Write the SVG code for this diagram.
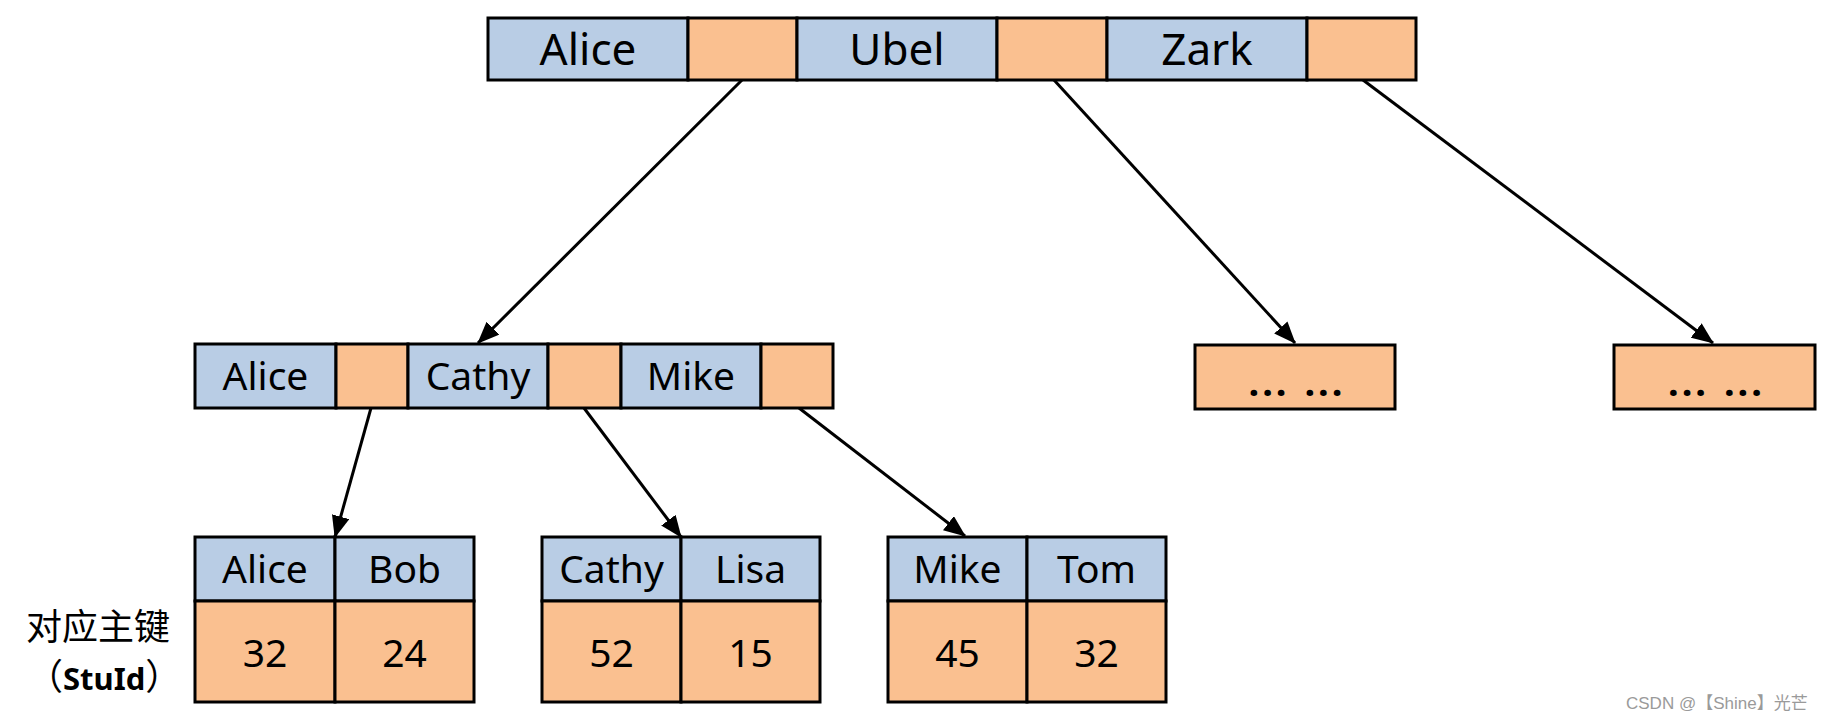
<svg xmlns="http://www.w3.org/2000/svg" width="1842" height="723" viewBox="0 0 1842 723">
<style>
.b{fill:#B9CDE5;stroke:#000;stroke-width:3}
.o{fill:#FAC090;stroke:#000;stroke-width:3}
.t{font-family:"Noto Sans","Open Sans",sans-serif;fill:#000;text-anchor:middle}
.t1{font-size:44px}
.t2{font-size:39px}
.dots{font-family:"Noto Sans",sans-serif;font-size:38px;font-weight:bold;text-anchor:middle;letter-spacing:3px;word-spacing:2px}
.cn{font-family:"Noto Sans CJK SC",sans-serif;font-size:36px;fill:#000}
.wm{font-family:"Liberation Sans","Noto Sans CJK SC",sans-serif;font-size:17px;fill:#9a9a9a}
.c{stroke:#000;stroke-width:3;fill:none;marker-end:url(#ah)}
</style>
<defs>
<marker id="ah" markerUnits="userSpaceOnUse" viewBox="0 0 22 18" markerWidth="22" markerHeight="18" refX="21" refY="9" orient="auto">
<path d="M0,0 L22,9 L0,18 z" fill="#000"/>
</marker>
</defs>
<rect width="1842" height="723" fill="#fff"/>
<g id="connectors">
<line class="c" x1="742" y1="80" x2="478" y2="343"/>
<line class="c" x1="1054" y1="80" x2="1295" y2="343"/>
<line class="c" x1="1363" y1="80" x2="1713" y2="343"/>
<line class="c" x1="371" y1="408" x2="335" y2="537"/>
<line class="c" x1="584" y1="408" x2="681" y2="537"/>
<line class="c" x1="799" y1="408" x2="965" y2="536"/>
</g>
<g id="root">
<rect class="b" x="488" y="18" width="200" height="62"/>
<rect class="o" x="688" y="18" width="109" height="62"/>
<rect class="b" x="797" y="18" width="200" height="62"/>
<rect class="o" x="997" y="18" width="110" height="62"/>
<rect class="b" x="1107" y="18" width="200" height="62"/>
<rect class="o" x="1307" y="18" width="109" height="62"/>
<text class="t t1" x="588" y="65">Alice</text>
<text class="t t1" x="897" y="65">Ubel</text>
<text class="t t1" x="1207" y="65">Zark</text>
</g>
<g id="mid">
<rect class="b" x="195" y="344" width="141" height="64"/>
<rect class="o" x="336" y="344" width="72" height="64"/>
<rect class="b" x="408" y="344" width="140" height="64"/>
<rect class="o" x="548" y="344" width="73" height="64"/>
<rect class="b" x="621" y="344" width="140" height="64"/>
<rect class="o" x="761" y="344" width="72" height="64"/>
<text class="t t2" x="265.5" y="390">Alice</text>
<text class="t t2" x="478" y="390">Cathy</text>
<text class="t t2" x="691" y="390">Mike</text>
</g>
<g id="box1">
<rect class="o" x="1195" y="345" width="200" height="64"/>
<text class="dots" x="1297" y="396">... ...</text>
</g>
<g id="box2">
<rect class="o" x="1614" y="345" width="201" height="64"/>
<text class="dots" x="1716.5" y="396">... ...</text>
</g>
<g id="leaf1">
<rect class="b" x="195" y="537" width="140" height="64"/>
<rect class="b" x="335" y="537" width="139" height="64"/>
<rect class="o" x="195" y="601" width="140" height="101"/>
<rect class="o" x="335" y="601" width="139" height="101"/>
<text class="t t2" x="265" y="583">Alice</text>
<text class="t t2" x="404.5" y="583">Bob</text>
<text class="t t2" x="265" y="667">32</text>
<text class="t t2" x="404.5" y="667">24</text>
</g>
<g id="leaf2">
<rect class="b" x="542" y="537" width="139" height="64"/>
<rect class="b" x="681" y="537" width="139" height="64"/>
<rect class="o" x="542" y="601" width="139" height="101"/>
<rect class="o" x="681" y="601" width="139" height="101"/>
<text class="t t2" x="611.5" y="583">Cathy</text>
<text class="t t2" x="750.5" y="583">Lisa</text>
<text class="t t2" x="611.5" y="667">52</text>
<text class="t t2" x="750.5" y="667">15</text>
</g>
<g id="leaf3">
<rect class="b" x="888" y="537" width="139" height="64"/>
<rect class="b" x="1027" y="537" width="139" height="64"/>
<rect class="o" x="888" y="601" width="139" height="101"/>
<rect class="o" x="1027" y="601" width="139" height="101"/>
<text class="t t2" x="957.5" y="583">Mike</text>
<text class="t t2" x="1096.5" y="583">Tom</text>
<text class="t t2" x="957.5" y="667">45</text>
<text class="t t2" x="1096.5" y="667">32</text>
</g>
<g id="label">
<text class="cn" x="26" y="640" font-size="37px">对应主键</text>
<text class="cn" x="27" y="690" font-size="34px">（<tspan font-family="'Noto Sans',sans-serif" font-weight="bold" font-size="31px">StuId</tspan>）</text>
</g>
<text class="wm" x="1626" y="709">CSDN @【Shine】光芒</text>
</svg>
